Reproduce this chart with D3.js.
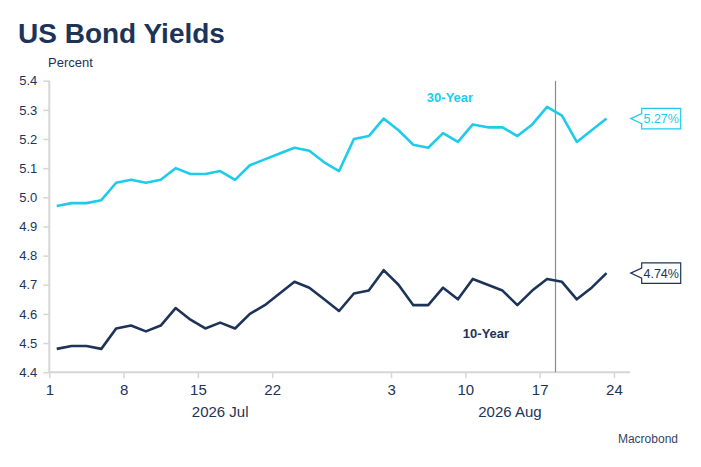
<!DOCTYPE html>
<html><head><meta charset="utf-8">
<script src="https://cdn.jsdelivr.net/npm/d3@7"></script>
<style>
body{margin:0;background:#fff;}
svg{display:block;font-family:"Liberation Sans",Arial,sans-serif;}
</style></head>
<body><svg id="c" width="701" height="467"></svg>
<script>
// Trading days (weekdays) Jul 1 – Aug 21, 2026
const dates = ["2026-07-01","2026-07-02","2026-07-03","2026-07-06","2026-07-07","2026-07-08","2026-07-09","2026-07-10",
"2026-07-13","2026-07-14","2026-07-15","2026-07-16","2026-07-17","2026-07-20","2026-07-21","2026-07-22","2026-07-23","2026-07-24",
"2026-07-27","2026-07-28","2026-07-29","2026-07-30","2026-07-31","2026-08-03","2026-08-04","2026-08-05","2026-08-06","2026-08-07",
"2026-08-10","2026-08-11","2026-08-12","2026-08-13","2026-08-14","2026-08-17","2026-08-18","2026-08-19","2026-08-20","2026-08-21"];
const yield30 = [4.97,4.98,4.98,4.99,5.05,5.06,5.05,5.06,5.10,5.08,5.08,5.09,5.06,5.11,5.13,5.15,5.17,5.16,5.12,5.09,
5.20,5.21,5.27,5.23,5.18,5.17,5.22,5.19,5.25,5.24,5.24,5.21,5.25,5.31,5.28,5.19,5.23,5.27];
const yield10 = [4.48,4.49,4.49,4.48,4.55,4.56,4.54,4.56,4.62,4.58,4.55,4.57,4.55,4.60,4.63,4.67,4.71,4.69,4.65,4.61,
4.67,4.68,4.75,4.70,4.63,4.63,4.69,4.65,4.72,4.70,4.68,4.63,4.68,4.72,4.71,4.65,4.69,4.74];
const yTicks = [4.4,4.5,4.6,4.7,4.8,4.9,5.0,5.1,5.2,5.3,5.4];
const xTickDates = ["2026-07-01","2026-07-08","2026-07-15","2026-07-22","2026-08-03","2026-08-10","2026-08-17","2026-08-24"];
const months = [{label:"2026 Jul", from:"2026-07-01", to:"2026-08-01"},{label:"2026 Aug", from:"2026-08-01", to:"2026-08-25"}];
const axisEnd = "2026-08-25";
const markerDate = "2026-08-18";

const parse = d3.timeParse("%Y-%m-%d");
const start = parse(dates[0]);
const wdIndex = s => d3.timeDay.range(start, parse(s)).filter(d => d.getDay() % 6 !== 0).length;

const navy = "#1d3458", cyan = "#1ecbea", grid = "#d6d6d6";
const svg = d3.select("#c");
const x = d3.scaleLinear().domain([0, wdIndex(axisEnd)]).range([49.3, 628.8]);
const y = d3.scaleLinear().domain([4.4, 5.4]).range([372.2, 80.7]);

// title
svg.append("text").attr("x",18).attr("y",43).attr("fill",navy).attr("font-size",28).attr("font-weight","bold").text("US Bond Yields");
svg.append("text").attr("x",48).attr("y",67).attr("fill",navy).attr("font-size",13).text("Percent");
svg.append("text").attr("x",678).attr("y",443).attr("text-anchor","end").attr("fill","#34456a").attr("font-size",12).text("Macrobond");

// y axis
const ya = svg.append("g").attr("transform","translate(49.3,0)")
  .call(d3.axisLeft(y).tickValues(yTicks).tickFormat(d3.format(".1f")).tickSize(6).tickPadding(6));
ya.select(".domain").attr("stroke",grid).attr("stroke-width",2).attr("d","M0,80.7V372.2");
ya.selectAll(".tick line").attr("stroke",grid).attr("stroke-width",1.5);
ya.selectAll(".tick text").attr("fill",navy).attr("font-size",13).attr("font-family","Liberation Sans, Arial, sans-serif");

// x axis
const xa = svg.append("g").attr("transform","translate(0,372.2)")
  .call(d3.axisBottom(x).tickValues(xTickDates.map(wdIndex)).tickFormat((d,i)=>String(parse(xTickDates[i]).getDate())).tickSize(6).tickPadding(6));
xa.select(".domain").attr("stroke",grid).attr("stroke-width",2).attr("d","M49.3,0H630");
xa.selectAll(".tick line").attr("stroke",grid).attr("stroke-width",1.5);
xa.selectAll(".tick text").attr("fill",navy).attr("font-size",15).attr("font-family","Liberation Sans, Arial, sans-serif");

months.forEach(m=>{
  const cx = (x(wdIndex(m.from)) + x(wdIndex(m.to)))/2;
  svg.append("text").attr("x",cx).attr("y",417).attr("text-anchor","middle").attr("fill",navy).attr("font-size",15).text(m.label);
});

// marker line
svg.append("line").attr("x1",x(wdIndex(markerDate))+1).attr("x2",x(wdIndex(markerDate))+1)
  .attr("y1",y(5.4)).attr("y2",y(4.4)).attr("stroke","#8a8a8a").attr("stroke-width",1.2);

// lines
const line = d3.line().x((d,i)=>x(i+0.5)).y(d=>y(d));
svg.append("path").datum(yield30).attr("d",line).attr("fill","none").attr("stroke",cyan).attr("stroke-width",2.6).attr("stroke-linejoin","round");
svg.append("path").datum(yield10).attr("d",line).attr("fill","none").attr("stroke",navy).attr("stroke-width",2.6).attr("stroke-linejoin","round");

// series labels
svg.append("text").attr("x",450).attr("y",102).attr("text-anchor","middle").attr("fill",cyan).attr("font-size",13).attr("font-weight","bold").text("30-Year");
svg.append("text").attr("x",486).attr("y",338).attr("text-anchor","middle").attr("fill",navy).attr("font-size",13).attr("font-weight","bold").text("10-Year");

// callouts
function callout(v, color){
  const cy = y(v);
  const bx = 641.7, bw = 39, bh = 20.5, tip = 630.7;
  const g = svg.append("g");
  g.append("path").attr("d",`M${tip},${cy} L${bx},${cy-5} V${cy-bh/2} H${bx+bw} V${cy+bh/2} H${bx} V${cy+5} Z`)
    .attr("fill","#fff").attr("stroke",color).attr("stroke-width",1.2);
  g.append("text").attr("x",bx+bw/2).attr("y",cy+4.5).attr("text-anchor","middle").attr("fill",color).attr("font-size",12.5).text(d3.format(".2f")(v)+"%");
}
callout(yield30[yield30.length-1], cyan);
callout(yield10[yield10.length-1], navy);
</script></body></html>
